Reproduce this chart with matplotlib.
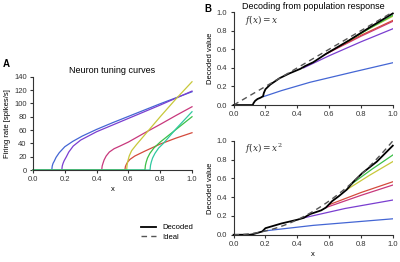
import matplotlib.pyplot as plt

# Panel A: tuning curves (x, rate)
colors = ['#4466d4', '#7a3ed0', '#c8387c', '#d44a3c', '#c8c83a', '#3cc048', '#30c8a0']
tune_x = [
    [0, 0.118, 0.121, 0.126, 0.133, 0.145, 0.165, 0.2, 0.25, 0.31, 0.4, 0.5, 0.6, 0.7, 0.8, 0.9, 1.0],
    [0, 0.181, 0.184, 0.189, 0.196, 0.21, 0.225, 0.253, 0.3, 0.4, 0.5, 0.6, 0.7, 0.8, 0.9, 1.0],
    [0, 0.432, 0.435, 0.44, 0.447, 0.46, 0.48, 0.51, 0.547, 0.6, 0.7, 0.8, 0.9, 1.0],
    [0, 0.578, 0.581, 0.586, 0.595, 0.61, 0.64, 0.7, 0.8, 0.9, 1.0],
    [0, 0.589, 0.592, 0.597, 0.605, 0.62, 0.65, 0.7, 0.8, 0.9, 1.0],
    [0, 0.704, 0.707, 0.712, 0.72, 0.735, 0.76, 0.8, 0.9, 1.0],
    [0, 0.736, 0.739, 0.744, 0.752, 0.767, 0.79, 0.82, 0.9, 1.0],
]
tune_y = [
    [0, 0, 6, 10, 13, 19, 26, 35, 43, 51, 61, 71, 80.5, 90, 99.5, 108.5, 117.5],
    [0, 0, 6, 10, 14, 20, 27, 36, 45, 57.5, 67.5, 77.5, 87.5, 97.5, 108, 118.5],
    [0, 0, 6, 10, 15, 21, 27, 32, 36, 42, 55.5, 68.5, 82, 95],
    [0, 0, 5, 8, 12, 16, 21, 28, 39, 48, 56],
    [0, 0, 8, 14, 21, 29, 38, 52, 80, 107, 132.5],
    [0, 0, 7, 12, 18, 25, 33, 42, 61, 80],
    [0, 0, 7, 12, 18, 25, 33, 40, 62, 87.5],
]

# Panel B top: f(x) = x
lin_x = [[0.186, 0.3, 0.48, 0.75, 1.0], [0.44, 0.6, 0.8, 1.0], [0.57, 0.8, 1.0],
         [0.59, 0.8, 1.0], [0.71, 0.85, 1.0], [0.74, 0.87, 1.0]]
lin_y = [[0.09, 0.155, 0.245, 0.355, 0.455], [0.4, 0.53, 0.68, 0.82], [0.54, 0.74, 0.9],
         [0.56, 0.75, 0.91], [0.68, 0.82, 0.955], [0.71, 0.84, 0.965]]
lin_dec_x = [0, 0.12, 0.125, 0.135, 0.15, 0.17, 0.185, 0.19, 0.2, 0.23, 0.29, 0.35, 0.42,
             0.45, 0.5, 0.58, 0.65, 0.73, 0.85, 1.0]
lin_dec_y = [0, 0, 0.02, 0.045, 0.065, 0.08, 0.095, 0.13, 0.17, 0.22, 0.29, 0.34, 0.39,
             0.42, 0.46, 0.55, 0.62, 0.7, 0.83, 0.985]

# Panel B bottom: f(x) = x^2
sq_x = [[0.19, 0.5, 1.0], [0.44, 0.7, 1.0], [0.58, 0.8, 1.0],
        [0.6, 0.8, 1.0], [0.71, 0.85, 1.0], [0.74, 0.87, 1.0]]
sq_y = [[0.04, 0.1, 0.17], [0.18, 0.28, 0.37], [0.29, 0.42, 0.53],
        [0.32, 0.45, 0.565], [0.48, 0.63, 0.78], [0.54, 0.7, 0.85]]
sq_dec_x = [0, 0.1, 0.12, 0.15, 0.18, 0.2, 0.25, 0.3, 0.4, 0.44, 0.48, 0.55, 0.58, 0.62,
            0.66, 0.71, 0.75, 0.81, 0.9, 1.0]
sq_dec_y = [0, 0, 0.005, 0.02, 0.035, 0.07, 0.095, 0.12, 0.16, 0.18, 0.22, 0.26, 0.29, 0.36,
            0.41, 0.48, 0.56, 0.66, 0.78, 0.95]
ideal_x = [i / 50 for i in range(51)]

plt.rcParams['font.family'] = ['Liberation Sans', 'DejaVu Sans']
plt.rcParams['font.size'] = 5.5
plt.rcParams['mathtext.fontset'] = 'dejavuserif'

fig = plt.figure(figsize=(4, 2.62), dpi=100)
axA = fig.add_axes([0.0825, 0.351, 0.3975, 0.356])
axB1 = fig.add_axes([0.584, 0.599, 0.398, 0.355])
axB2 = fig.add_axes([0.584, 0.104, 0.398, 0.358])


def style(ax):
    for s in ['top', 'right']:
        ax.spines[s].set_visible(False)
    for s in ['left', 'bottom']:
        ax.spines[s].set_color('#333333')
        ax.spines[s].set_linewidth(0.8)
    ax.tick_params(direction='out', length=2.5, width=0.8, colors='#333333', pad=2, labelsize=5.5)
    ax.set_xlim(0, 1)
    ax.set_xticks([0, 0.2, 0.4, 0.6, 0.8, 1.0])


for xs, ys, c in zip(tune_x, tune_y, colors):
    axA.plot(xs, ys, color=c, lw=0.9, clip_on=False)
style(axA)
axA.set_ylim(0, 140)
axA.set_yticks(range(0, 141, 20))
axA.set_xlabel('x', labelpad=2)
axA.set_ylabel('Firing rate [spikes/s]', labelpad=2)
axA.set_title('Neuron tuning curves', fontsize=6.5, pad=3)

for ax, cx, cy, dx, dy, ideal, lab in [
        (axB1, lin_x, lin_y, lin_dec_x, lin_dec_y, ideal_x, r'$f(x) = x$'),
        (axB2, sq_x, sq_y, sq_dec_x, sq_dec_y, [v * v for v in ideal_x], r'$f(x) = x^2$')]:
    for xs, ys, c in zip(cx, cy, colors[:6]):
        ax.plot(xs, ys, color=c, lw=0.9)
    ax.plot(dx, dy, color='black', lw=1.3, clip_on=False)
    ax.plot(ideal_x, ideal, color='#555555', lw=1.0, ls=(0, (4, 3)))
    style(ax)
    ax.set_ylim(0, 1)
    ax.set_yticks([0, 0.2, 0.4, 0.6, 0.8, 1.0])
    ax.set_ylabel('Decoded value', labelpad=2)
    ax.text(0.07, 0.88, lab, fontsize=6.5, color='#333333', transform=ax.transAxes)

axB1.set_title('Decoding from population response', fontsize=6.5, pad=2)
axB2.set_xlabel('x', labelpad=2)

fig.text(0.008, 0.745, 'A', fontsize=7, fontweight='bold')
fig.text(0.512, 0.955, 'B', fontsize=7, fontweight='bold')

h1, = axA.plot([], [], color='black', lw=1.3, label='Decoded')
h2, = axA.plot([], [], color='#555555', lw=1.0, ls=(0, (4, 3)), label='Ideal')
fig.legend(handles=[h1, h2], loc='upper left', bbox_to_anchor=(0.345, 0.157),
           frameon=False, fontsize=5.5, handlelength=2.0, handletextpad=0.8,
           labelspacing=0.3, borderaxespad=0)

fig.savefig('out.png', dpi=100)
